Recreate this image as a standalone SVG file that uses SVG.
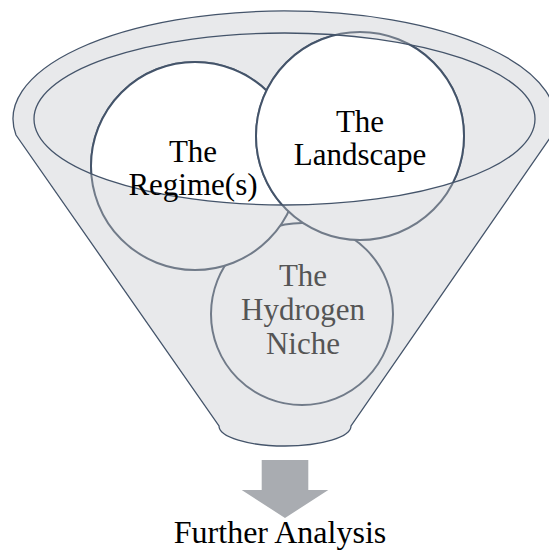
<svg xmlns="http://www.w3.org/2000/svg" width="549" height="550" viewBox="0 0 549 550">
  <style>
    .body { fill: #E8E9EB; stroke: #44546A; stroke-width: 1.3; }
    .rim { fill: none; stroke: #44546A; stroke-width: 1.3; }
    .lower { fill: #E8E9EB; stroke: #717B89; stroke-width: 2; }
    .upper { fill: #FFFFFF; stroke: #44546A; stroke-width: 2; }
    .lbl { font-family: "Liberation Serif", "Times New Roman", serif; font-size: 31px; text-anchor: middle; fill: #000000; }
    .lbl-dim { fill: #555555; }
    .flow { fill: #A9ACB1; }
  </style>
  <defs>
    <clipPath id="innerClip">
      <ellipse cx="284.5" cy="119" rx="250.5" ry="86"/>
    </clipPath>
  </defs>

  <g id="funnel">
    <path class="body" d="M16,135 A271,108 0 1 1 552,135 L351,426 A66,20 0 0 1 219,426 Z"/>
    <ellipse cx="284.5" cy="119" rx="250.5" ry="86" style="fill:#E8E9EB;stroke:none"/>
  </g>

  <g id="niche">
    <circle class="lower" cx="302" cy="314" r="91"/>
    <text class="lbl lbl-dim" x="303" y="286">The</text>
    <text class="lbl lbl-dim" x="303" y="320">Hydrogen</text>
    <text class="lbl lbl-dim" x="303" y="354">Niche</text>
  </g>

  <g id="regime">
    <circle class="lower" cx="195" cy="166" r="104"/>
    <circle class="upper" cx="195" cy="166" r="104" clip-path="url(#innerClip)"/>
  </g>

  <g id="landscape">
    <circle class="lower" cx="360" cy="136" r="104"/>
    <circle class="upper" cx="360" cy="136" r="104" clip-path="url(#innerClip)"/>
  </g>

  <g id="funnel-rim">
    <ellipse class="rim" cx="284.5" cy="119" rx="250.5" ry="86"/>
  </g>

  <g id="regime-label">
    <text class="lbl" x="193" y="162">The</text>
    <text class="lbl" x="193" y="195">Regime(s)</text>
  </g>

  <g id="landscape-label">
    <text class="lbl" x="360" y="132">The</text>
    <text class="lbl" x="360" y="165">Landscape</text>
  </g>

  <g id="connectors">
    <path class="flow" d="M261.7,460 H308.3 V490 H328.3 L285,518 L241.7,490 H261.7 Z"/>
  </g>

  <g id="further">
    <text class="lbl" x="280" y="543" style="font-size:32px">Further Analysis</text>
  </g>
</svg>
